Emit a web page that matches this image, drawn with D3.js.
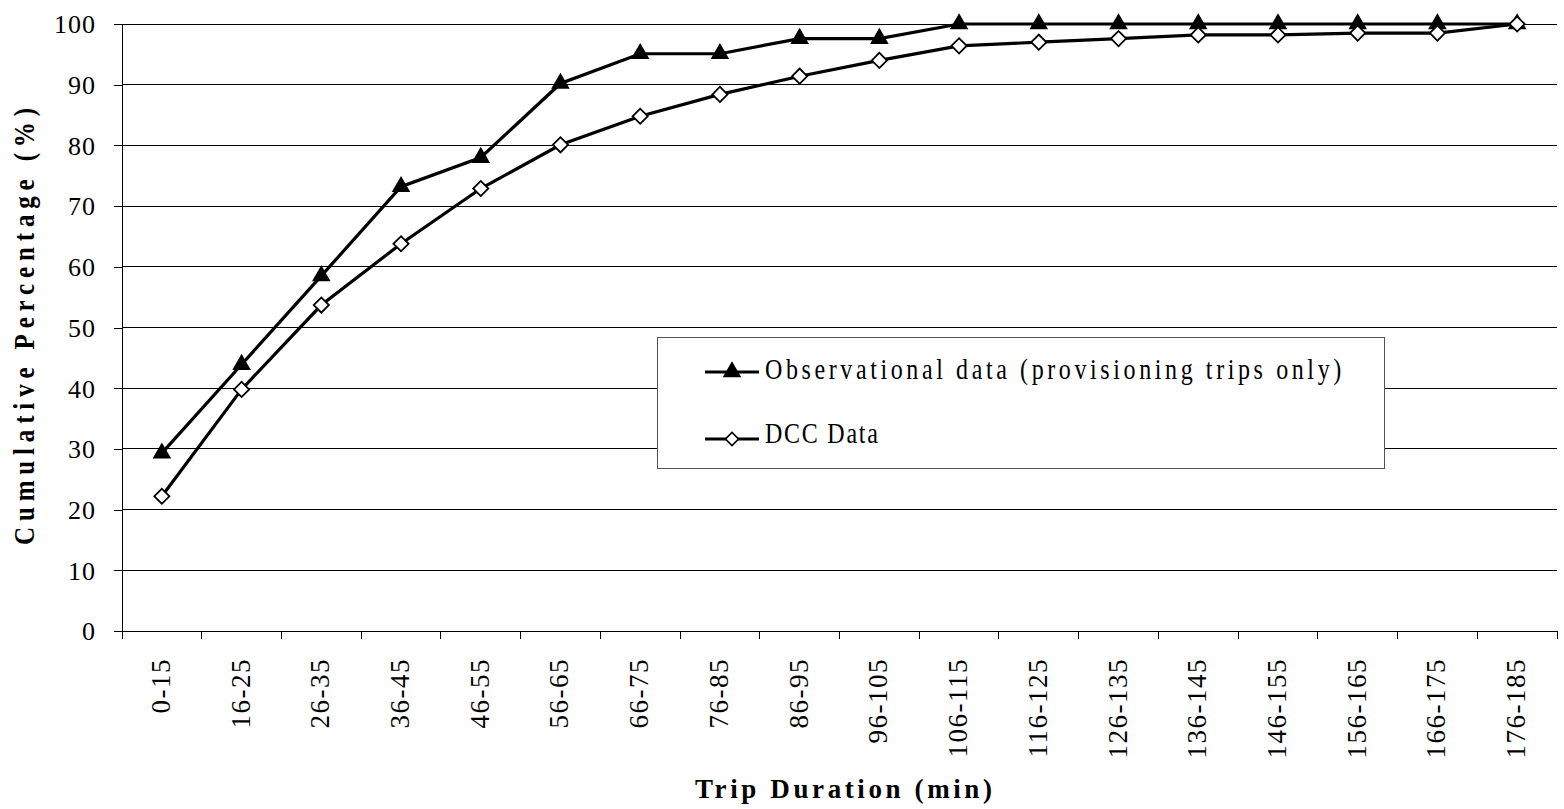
<!DOCTYPE html>
<html><head><meta charset="utf-8">
<script src="https://cdn.jsdelivr.net/npm/d3@7"></script>
<style>body{margin:0;background:#fff;} svg{display:block;}</style>
</head><body><svg id="c" width="1564" height="809"></svg>
<script>
const categories = ["0-15","16-25","26-35","36-45","46-55","56-65","66-75","76-85","86-95","96-105","106-115","116-125","126-135","136-145","146-155","156-165","166-175","176-185"];
const observational = [29.3,43.9,58.5,73.2,78.0,90.2,95.1,95.1,97.6,97.6,100,100,100,100,100,100,100,100];
const dcc = [22.2,39.8,53.7,63.8,72.9,80.1,84.8,88.4,91.4,94.0,96.4,97.0,97.6,98.2,98.2,98.5,98.5,100];
const yTicks = [0,10,20,30,40,50,60,70,80,90,100];
const seriesNames = ["Observational data (provisioning trips only)","DCC Data"];

const svg = d3.select("#c");
const L = 122, R = 1557, T = 24, B = 631;
const x = d3.scaleBand().domain(categories).range([L, R]);
const y = d3.scaleLinear().domain([0,100]).range([B, T]);
const font = "'Liberation Serif','Times New Roman',serif";
const cx = c => x(c) + x.bandwidth()/2;

// gridlines
svg.append("g").selectAll("line").data(yTicks.filter(d=>d>0)).join("line")
  .attr("x1", L).attr("x2", R).attr("y1", d=>y(d)).attr("y2", d=>y(d))
  .attr("stroke", "#000").attr("stroke-width", 1).attr("shape-rendering","crispEdges");

// y axis
const ya = svg.append("g").attr("transform", `translate(${L},0)`)
  .call(d3.axisLeft(y).tickValues(yTicks).tickSize(8).tickPadding(18));
ya.select(".domain").remove();
ya.selectAll("line").attr("stroke","#000").attr("shape-rendering","crispEdges");
ya.selectAll("text").attr("font-family", font).attr("font-size", 26).attr("fill","#000")
  .attr("letter-spacing","1px").attr("dy","0.34em");
svg.append("line").attr("x1",L).attr("x2",L).attr("y1",T).attr("y2",B+8).attr("stroke","#000").attr("shape-rendering","crispEdges");

// x axis
svg.append("line").attr("x1",L).attr("x2",R).attr("y1",B).attr("y2",B).attr("stroke","#000").attr("shape-rendering","crispEdges");
const bounds = categories.map(c => x(c)).concat([R]);
svg.append("g").selectAll("line").data(bounds).join("line")
  .attr("x1", d=>d).attr("x2", d=>d).attr("y1", B).attr("y2", B+8)
  .attr("stroke","#000").attr("shape-rendering","crispEdges");
svg.append("g").selectAll("text").data(categories).join("text")
  .attr("transform", d=>`translate(${cx(d)+8},${B+27}) rotate(-90)`)
  .attr("text-anchor","end").attr("font-family", font).attr("font-size", 27)
  .attr("letter-spacing","1.5px").text(d=>d);

// titles
svg.append("text").attr("x", 695).attr("y", 798)
  .attr("font-family", font).attr("font-weight","bold").attr("font-size", 27)
  .attr("textLength", 297).attr("lengthAdjust","spacing")
  .text("Trip Duration (min)");
svg.append("g").attr("transform", `translate(34,545) rotate(-90) scale(1,1.15)`)
  .append("text").attr("x",0).attr("y",0)
  .attr("font-family", font).attr("font-weight","bold").attr("font-size", 25)
  .attr("textLength", 437).attr("lengthAdjust","spacing")
  .text("Cumulative Percentage (%)");

const line = d3.line().x((d,i)=>cx(categories[i])).y(d=>y(d));
const triPath = d3.symbol().type(d3.symbolTriangle).size(150)();
const diaPath = d3.symbol().type(d3.symbolSquare).size(115)();

function drawSeries(vals, sym, fill, rot){
  svg.append("path").datum(vals).attr("d", line).attr("fill","none")
    .attr("stroke","#000").attr("stroke-width",3.2).attr("stroke-linejoin","miter");
  svg.append("g").selectAll("path").data(vals).join("path")
    .attr("transform",(d,i)=>`translate(${cx(categories[i])},${y(d)}) rotate(${rot})`)
    .attr("d", sym).attr("fill", fill).attr("stroke","#000").attr("stroke-width", fill==="#fff"?1.8:0);
}
drawSeries(observational, triPath, "#000", 0);
drawSeries(dcc, diaPath, "#fff", 45);

// legend
const lg = svg.append("g");
lg.append("rect").attr("x",657.5).attr("y",337.5).attr("width",727).attr("height",131)
  .attr("fill","#fff").attr("stroke","#555").attr("stroke-width",1);
const items = [{name:seriesNames[0], y:372, base:379, sym:triPath, fill:"#000", rot:0, w:578},
               {name:seriesNames[1], y:439, base:443, sym:d3.symbol().type(d3.symbolSquare).size(85)(), fill:"#fff", rot:45, w:0}];
items.forEach(it=>{
  lg.append("line").attr("x1",705).attr("x2",759).attr("y1",it.y).attr("y2",it.y).attr("stroke","#000").attr("stroke-width",3.2);
  lg.append("path").attr("d", it.sym).attr("transform",`translate(732,${it.y}) rotate(${it.rot})`)
    .attr("fill", it.fill).attr("stroke","#000").attr("stroke-width", it.fill==="#fff"?1.6:0);
  const t = lg.append("g").attr("transform",`translate(765,${it.base}) scale(0.8,1)`)
    .append("text").attr("font-family",font).attr("font-size",30).attr("letter-spacing","2.2px").text(it.name);
  if (it.w) t.attr("textLength", it.w/0.8).attr("lengthAdjust","spacing");
});
</script></body></html>
